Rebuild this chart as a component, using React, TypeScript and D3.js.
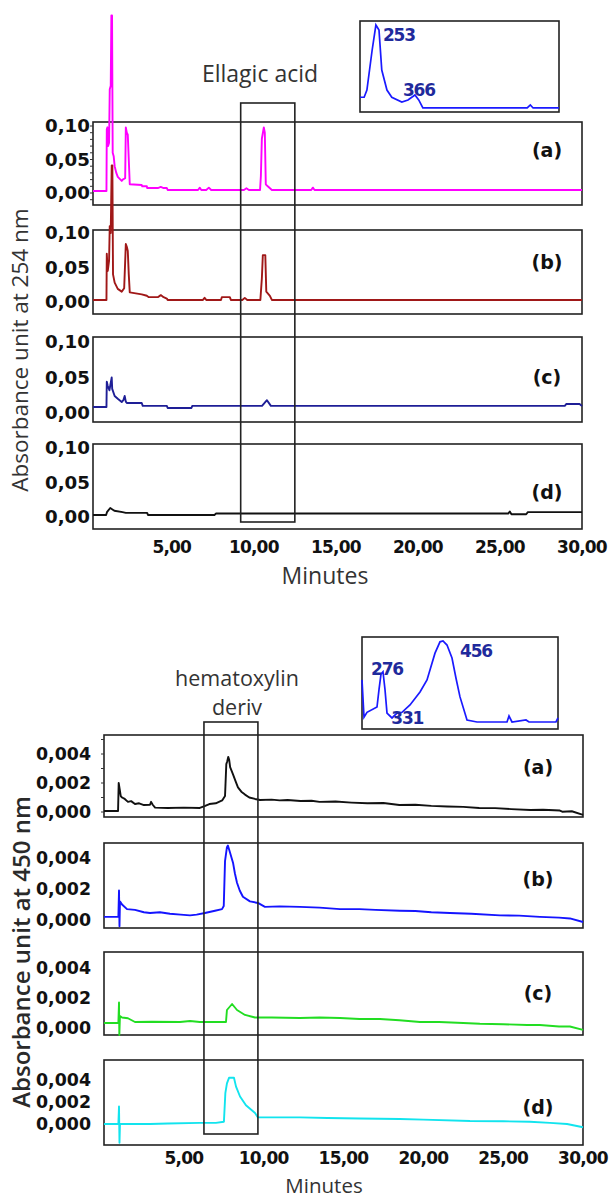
import React from "react";
import * as d3 from "d3";

type Pt = [number, number];

// ---- 254 nm chromatograms: [minutes, absorbance] ----
const ellagicA: Pt[] = [
  [0.2, 0.003], [1.02, 0.003], [1.04, 0.095], [1.08, 0.098], [1.12, 0.07], [1.18, 0.075],
  [1.22, 0.155], [1.28, 0.16], [1.32, 0.265], [1.36, 0.265], [1.4, 0.06], [1.46, 0.055],
  [1.52, 0.04], [1.62, 0.03], [1.71, 0.024], [1.95, 0.018], [2.01, 0.02], [2.16, 0.022],
  [2.2, 0.098], [2.26, 0.09], [2.32, 0.087], [2.38, 0.05], [2.44, 0.013], [3.17, 0.012],
  [3.2, 0.01], [3.48, 0.01], [3.5, 0.0074], [4.15, 0.0074], [4.33, 0.009], [4.5, 0.0074],
  [4.7, 0.0074], [4.75, 0.0045], [6.6, 0.0045], [6.71, 0.008], [6.8, 0.0045], [7.1, 0.0045],
  [7.26, 0.008], [7.4, 0.0045], [9.4, 0.0045], [9.55, 0.007], [9.7, 0.0045], [10.38, 0.0045],
  [10.43, 0.025], [10.49, 0.081], [10.61, 0.098], [10.67, 0.09], [10.73, 0.013], [10.85, 0.01],
  [11.1, 0.0045], [13.5, 0.0045], [13.6, 0.008], [13.7, 0.0045], [30, 0.0045],
];
const ellagicB: Pt[] = [
  [0.2, 0.003], [1.02, 0.003], [1.04, 0.07], [1.1, 0.045], [1.18, 0.06], [1.22, 0.11],
  [1.28, 0.1], [1.34, 0.198], [1.38, 0.198], [1.42, 0.04], [1.52, 0.028], [1.71, 0.019],
  [1.95, 0.015], [2.1, 0.02], [2.2, 0.084], [2.26, 0.08], [2.32, 0.074], [2.38, 0.04],
  [2.44, 0.014], [3.17, 0.011], [3.48, 0.009], [3.6, 0.007], [4.15, 0.007], [4.33, 0.01],
  [4.5, 0.007], [4.7, 0.005], [4.75, 0.003], [6.9, 0.003], [7.0, 0.006], [7.1, 0.003],
  [8.0, 0.003], [8.05, 0.007], [8.54, 0.007], [8.6, 0.003], [9.3, 0.003], [9.45, 0.006],
  [9.6, 0.003], [10.4, 0.003], [10.49, 0.034], [10.55, 0.068], [10.7, 0.068], [10.76, 0.015],
  [10.98, 0.009], [11.1, 0.003], [30, 0.003],
];
const ellagicC: Pt[] = [
  [0.2, 0.0085], [1.02, 0.0085], [1.04, 0.044], [1.1, 0.038], [1.2, 0.032], [1.34, 0.05],
  [1.37, 0.034], [1.52, 0.024], [1.71, 0.02], [1.95, 0.0155], [2.05, 0.018], [2.13, 0.024],
  [2.2, 0.016], [2.26, 0.014], [3.17, 0.014], [3.23, 0.01], [4.7, 0.01], [4.75, 0.007],
  [6.2, 0.007], [6.25, 0.01], [10.5, 0.01], [10.8, 0.018], [11.04, 0.01], [28.95, 0.01],
  [29.05, 0.0127], [29.85, 0.0127], [30, 0.01],
];
const ellagicD: Pt[] = [
  [0.2, 0.003], [1.0, 0.003], [1.05, 0.007], [1.25, 0.013], [1.5, 0.009], [2.0, 0.007],
  [2.2, 0.006], [3.5, 0.006], [3.55, 0.003], [7.6, 0.003], [7.7, 0.005], [25.5, 0.005],
  [25.6, 0.008], [25.7, 0.004], [26.6, 0.004], [26.7, 0.007], [30, 0.007],
];

// ---- 450 nm chromatograms ----
const hemaA: Pt[] = [
  [0, 0.00007], [0.88, 0.00007], [0.92, 0.002], [0.98, 0.0016], [1.05, 0.0011], [1.13, 0.001],
  [1.3, 0.0009], [1.5, 0.0007], [1.7, 0.00075], [1.94, 0.00055], [2.2, 0.0006], [2.5, 0.00048],
  [2.88, 0.0005], [2.95, 0.0007], [3.05, 0.0005], [3.2, 0.0003], [4.0, 0.00028], [5.0, 0.0003],
  [6.0, 0.00028], [6.3, 0.0004], [6.6, 0.00055], [7.0, 0.0006], [7.4, 0.0008], [7.58, 0.0011],
  [7.66, 0.0033], [7.72, 0.0035], [7.78, 0.0038], [7.84, 0.0036], [7.9, 0.0031], [8.08, 0.0026],
  [8.25, 0.0021], [8.39, 0.0017], [8.6, 0.0014], [8.83, 0.0012], [9.1, 0.001], [9.46, 0.0009],
  [9.77, 0.00083], [10.5, 0.00085], [11, 0.0008], [11.5, 0.00083], [12.3, 0.00076], [13, 0.00078],
  [13.5, 0.0007], [14.5, 0.00072], [15.5, 0.00065], [16.5, 0.0006], [17.5, 0.00062], [18.5, 0.00048],
  [19.5, 0.0005], [20.5, 0.00042], [21.5, 0.00038], [22.5, 0.00035], [23.5, 0.00028], [24.5, 0.00027],
  [25.5, 0.0002], [26.7, 0.00014], [27.5, 0.00016], [28.55, 0.0001], [28.7, 0.00002], [29.3, 0.00005],
  [30, -0.0002],
];
const hemaB: Pt[] = [
  [0, 0.0002], [0.9, 0.0002], [0.94, 0.0019], [0.97, -0.0004], [1.0, 0.0012], [1.13, 0.001],
  [1.44, 0.0007], [1.94, 0.00065], [2.5, 0.0005], [2.88, 0.00045], [3.5, 0.0005], [4.13, 0.0004],
  [4.8, 0.00035], [5.39, 0.0003], [5.8, 0.00035], [6.32, 0.00045], [6.95, 0.0006], [7.39, 0.0007],
  [7.5, 0.0009], [7.58, 0.0038], [7.7, 0.0047], [7.76, 0.0048], [7.85, 0.0045], [8.08, 0.0037],
  [8.2, 0.003], [8.33, 0.0024], [8.5, 0.0019], [8.7, 0.0015], [9.14, 0.0012], [9.64, 0.0011],
  [10.08, 0.00085], [11, 0.00088], [12.27, 0.00085], [13.5, 0.0008], [14.78, 0.0007], [16, 0.0007],
  [17, 0.00065], [18.53, 0.0006], [19.5, 0.00058], [20.5, 0.0005], [21.67, 0.00045], [23, 0.0004],
  [24.8, 0.0003], [26, 0.00028], [27.3, 0.0002], [28.5, 0.00015], [29.18, 0.0001], [30, -0.00013],
];
const hemaC: Pt[] = [
  [0, 0.00033], [0.9, 0.00033], [0.94, 0.0017], [0.96, -0.00047], [1.0, 0.0008], [1.13, 0.0007],
  [1.5, 0.00065], [1.94, 0.0004], [3, 0.00042], [4.76, 0.0004], [5.39, 0.00047], [6.0, 0.0004],
  [6.64, 0.0004], [7.64, 0.0004], [7.7, 0.0012], [8.02, 0.0016], [8.33, 0.0012], [8.83, 0.00087],
  [9.46, 0.0007], [10.5, 0.0007], [12.27, 0.00067], [13.5, 0.0007], [14.78, 0.00067], [16, 0.0006],
  [17.28, 0.0006], [18.5, 0.00052], [19.79, 0.0004], [21, 0.0004], [22.5, 0.00033], [23.54, 0.00028],
  [25, 0.00025], [26.5, 0.0002], [27.3, 0.0002], [28.5, 0.0001], [29.18, 0.0001], [30, -0.00013],
];
const hemaD: Pt[] = [
  [0, 0], [0.9, 0], [0.94, 0.0016], [0.97, -0.0017], [1.0, 0], [1.13, 0], [2.88, 0],
  [4, 0.00005], [6.01, 0.0001], [7.01, 0.0001], [7.51, 0.0002], [7.6, 0.0028], [7.7, 0.0037],
  [7.83, 0.0042], [8.14, 0.0042], [8.27, 0.0034], [8.52, 0.0025], [8.89, 0.0017], [9.46, 0.001],
  [9.64, 0.0006], [10.5, 0.0006], [12.27, 0.0006], [14, 0.00055], [16, 0.0005], [18.53, 0.00045],
  [20, 0.0004], [22.92, 0.00027], [25, 0.00025], [26.67, 0.0002], [27.93, 0.0001], [29, 0],
  [30, -0.0003],
];

// ---- UV spectra of the boxed peaks: [nm, relative absorbance] ----
const spectrumEllagic: Pt[] = [
  [207, 0.15], [219, 0.15], [227, 0.235], [242, 0.7], [253, 1.0], [262, 0.94], [270, 0.47],
  [285, 0.235], [299, 0.15], [328, 0.094], [346, 0.118], [366, 0.176], [377, 0.118], [389, 0.024],
  [691, 0.024], [700, 0.06], [708, 0.024], [783, 0.024],
];
const spectrumHema: Pt[] = [
  [213, 0.52], [219, 0.06], [228, 0.12], [258, 0.185], [264, 0.4], [270, 0.59], [276, 0.62],
  [282, 0.4], [288, 0.11], [303, 0.05], [318, 0.11], [333, 0.12], [357, 0.21], [387, 0.37],
  [408, 0.52], [432, 0.85], [447, 0.99], [456, 1.0], [468, 0.95], [483, 0.79], [495, 0.54],
  [507, 0.31], [528, 0.025], [558, 0], [648, 0], [654, 0.074], [663, 0], [705, 0.025],
  [714, 0], [795, 0], [801, 0.05],
];
const peaksEllagic = [253, 366];
const peaksHema = [276, 331, 456];

const minuteTicks = [5, 10, 15, 20, 25, 30];
const ticks254 = [0, 0.05, 0.1];
const ticks450 = [0, 0.002, 0.004];
const panelLetters = ["(a)", "(b)", "(c)", "(d)"];
const colors254 = ["#ff00ff", "#a01818", "#1e1e96", "#111111"];
const colors450 = ["#111111", "#1414ff", "#22dd22", "#12e4ee"];

const comma = (digits: number) => (v: number) => v.toFixed(digits).replace(".", ",");

const W = 613;
const H = 1198;
const BOLD = "'DejaVu Sans', sans-serif";
const SANS = "'Open Sans', 'Noto Sans', sans-serif";

const line = (x: d3.ScaleLinear<number, number>, y: d3.ScaleLinear<number, number>) =>
  d3.line<Pt>().x(d => x(d[0])).y(d => y(d[1]));

function Stack(props: any) {
  const { series, colors, x, tops, heights, zeroOff, refOff, refValue, ticks, fmt, labelX, labelOff,
    tickLabelX, tickLen, minor } = props;
  return (
    <g>
      {series.map((s: Pt[], i: number) => {
        const top = tops[i];
        const y = d3.scaleLinear().domain([0, refValue]).range([top + zeroOff[i], top + refOff[i]]);
        const [x0, x1] = x.range();
        return (
          <g key={i}>
            <rect x={x0} y={top} width={x1 - x0} height={heights[i]} fill="none" stroke="#222" strokeWidth={1.6} />
            {i === 0 && minor.map((m: number) => (
              <line key={m} x1={x0 - 3} x2={x0} y1={y(m)} y2={y(m)} stroke="#333" strokeWidth={1} />
            ))}
            <path d={line(x, y)(s) || ""} fill="none" stroke={colors[i]} strokeWidth={1.9} strokeLinejoin="round" />
            {ticks.map((t: number) => (
              <text key={t} x={tickLabelX} y={y(t)} dy="0.36em" textAnchor="end" fontFamily={BOLD}
                fontWeight="bold" fontSize={17} textLength={tickLen} lengthAdjust="spacingAndGlyphs" fill="#111">
                {fmt(t)}
              </text>
            ))}
            <text x={labelX} y={top + labelOff[i]} dy="0.36em" textAnchor="middle" fontFamily={BOLD}
              fontWeight="bold" fontSize={19} fill="#111">
              {panelLetters[i]}
            </text>
          </g>
        );
      })}
    </g>
  );
}

function Inset(props: any) {
  const { data, peaks, x0, x1, y0, y1, domain, base, peakY, offsets } = props;
  const x = d3.scaleLinear().domain(domain).range([x0, x1]);
  const y = d3.scaleLinear().domain([0, 1]).range([base, peakY]);
  const valueAt = (nm: number) => {
    const p = data.reduce((a: Pt, b: Pt) => (Math.abs(b[0] - nm) < Math.abs(a[0] - nm) ? b : a));
    return p[1];
  };
  return (
    <g>
      <rect x={x0} y={y0} width={x1 - x0} height={y1 - y0} fill="#fff" stroke="#222" strokeWidth={1.6} />
      <path d={line(x, y)(data) || ""} fill="none" stroke="#1a1aff" strokeWidth={1.7} />
      {peaks.map((p: number, i: number) => (
        <text key={p} x={x(p) + offsets[i][0]} y={y(valueAt(p)) + offsets[i][1]} dy="0.36em"
          fontFamily={BOLD} fontWeight="bold" fontSize={17} fill="#1f2a9c" style={{ letterSpacing: -1.2 }}>
          {p}
        </text>
      ))}
    </g>
  );
}

export default function App() {
  const xTop = d3.scaleLinear().domain([0.2, 30]).range([93, 582]);
  const xBot = d3.scaleLinear().domain([0, 30]).range([104, 583]);

  return (
    <div style={{ position: "absolute", left: 0, top: 0 }}>
      <svg width={W} height={H} viewBox={`0 0 ${W} ${H}`} style={{ display: "block", background: "#fff" }}>
        {/* ---------- 254 nm ---------- */}
        <Stack
          series={[ellagicA, ellagicB, ellagicC, ellagicD]}
          colors={colors254}
          x={xTop}
          tops={[122, 230, 337, 444]}
          heights={[83, 84, 85, 85]}
          zeroOff={[71, 72, 76, 73]}
          refOff={[4, 3, 5, 4]}
          refValue={0.1}
          ticks={ticks254}
          fmt={comma(2)}
          tickLabelX={90}
          tickLen={45}
          labelX={547}
          labelOff={[28, 32, 40, 48]}
          minor={d3.range(-0.01, 0.101, 0.01)}
        />
        <rect x={xTop(9.2)} y={103} width={xTop(12.5) - xTop(9.2)} height={419} fill="none" stroke="#222" strokeWidth={1.6} />
        <Inset data={spectrumEllagic} peaks={peaksEllagic} x0={360} x1={559} y0={21} y1={112}
          domain={[207, 783]} base={110} peakY={25} offsets={[[7, 10], [-12, -5]]} />
        <text x={260} y={82} textAnchor="middle" fontFamily={SANS} fontSize={23} fill="#333">Ellagic acid</text>
        {minuteTicks.map(t => (
          <text key={t} x={xTop(t)} y={547} dy="0.36em" textAnchor="middle" fontFamily={BOLD}
            fontWeight="bold" fontSize={17} fill="#111" style={{ letterSpacing: -0.8 }}>{comma(2)(t)}</text>
        ))}
        <text x={325} y={584} textAnchor="middle" fontFamily={SANS} fontSize={23} fill="#333">Minutes</text>
        <text transform="translate(28,350) rotate(-90)" textAnchor="middle" fontFamily={SANS}
          fontSize={22.5} fill="#333">Absorbance unit at 254 nm</text>

        {/* ---------- 450 nm ---------- */}
        <Stack
          series={[hemaA, hemaB, hemaC, hemaD]}
          colors={colors450}
          x={xBot}
          tops={[735, 843, 952, 1060]}
          heights={[82, 85, 83, 85]}
          zeroOff={[77, 77, 76, 64]}
          refOff={[19, 15, 16, 20]}
          refValue={0.004}
          ticks={ticks450}
          fmt={comma(3)}
          tickLabelX={91}
          tickLen={55}
          labelX={538}
          labelOff={[32, 36, 41, 47]}
          minor={d3.range(0, 0.0051, 0.001)}
        />
        <rect x={xBot(6.26)} y={722} width={xBot(9.64) - xBot(6.26)} height={412} fill="none" stroke="#222" strokeWidth={1.6} />
        <Inset data={spectrumHema} peaks={peaksHema} x0={362} x1={558} y0={637} y1={729}
          domain={[213, 801]} base={722} peakY={641} offsets={[[-12, -3], [-10, 6], [17, 10]]} />
        <text x={237} y={686} textAnchor="middle" fontFamily={SANS} fontSize={21.5} fill="#333">hematoxylin</text>
        <text x={237} y={715} textAnchor="middle" fontFamily={SANS} fontSize={21.5} fill="#333">deriv</text>
        {minuteTicks.map(t => (
          <text key={t} x={xBot(t)} y={1158} dy="0.36em" textAnchor="middle" fontFamily={BOLD}
            fontWeight="bold" fontSize={17} fill="#111" style={{ letterSpacing: -0.8 }}>{comma(2)(t)}</text>
        ))}
        <text x={324} y={1193} textAnchor="middle" fontFamily={SANS} fontSize={20.5} fill="#333">Minutes</text>
        <text transform="translate(30,952) rotate(-90)" textAnchor="middle" fontFamily={SANS}
          fontSize={24} fontWeight={600} fill="#2a2a2a">Absorbance unit at 450 nm</text>
      </svg>
    </div>
  );
}
